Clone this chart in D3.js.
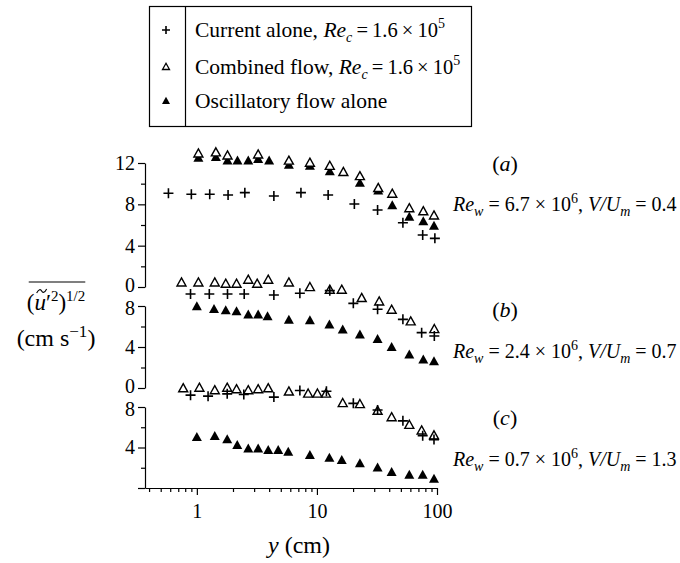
<!DOCTYPE html>
<html><head><meta charset="utf-8">
<script src="https://cdn.jsdelivr.net/npm/d3@7"></script>
<style>
body{margin:0;background:#fff;}
svg{display:block;font-family:"Liberation Serif","Times New Roman",serif;}
</style></head><body>
<svg id="c" width="680" height="563"></svg>
<script>
// ---- data (y in cm, u in cm/s) ----
const currentA_x = [0.58, 0.90, 1.28, 1.82, 2.51, 4.38, 7.36, 12.4, 20.5, 32, 52, 76, 96];
const currentA_y = [9.07, 8.97, 8.97, 8.9, 9.13, 8.8, 9.13, 8.9, 8.03, 7.45, 6.22, 5.03, 4.71];
const combinedA_x = [1.03, 1.44, 1.80, 3.24, 5.84, 8.74, 12.8, 16.6, 22.8, 32.4, 42.4, 58.8, 76.9, 94.4];
const combinedA_y = [12.9, 13.0, 12.7, 12.8, 12.2, 12.0, 11.7, 11.1, 10.7, 9.55, 9.0, 7.6, 7.3, 6.9];
const oscA_x = [1.03, 1.44, 1.80, 2.18, 2.68, 3.24, 4.0, 5.84, 8.74, 12.8, 22.8, 32.4, 42.4, 58.8, 76.9, 94.4];
const oscA_y = [12.46, 12.55, 12.2, 12.2, 12.2, 12.36, 12.2, 11.8, 11.7, 11.16, 10.04, 9.3, 7.87, 6.75, 6.32, 5.9];

const combinedB_x = [0.745, 1.03, 1.41, 1.74, 2.14, 2.68, 3.18, 3.93, 5.84, 8.74, 12.8, 16.1, 23.6, 33.0, 41.9, 60.4, 95];
const combinedB_y = [10.27, 10.27, 10.27, 10.15, 10.15, 10.54, 10.15, 10.54, 10.27, 9.82, 9.56, 9.56, 8.75, 8.42, 7.61, 6.47, 5.72];
const currentB_x = [0.886, 1.27, 1.80, 2.48, 4.38, 7.21, 12.8, 20.1, 32, 52, 74.5, 95];
const currentB_y = [9.17, 9.17, 9.17, 9.17, 9.07, 9.24, 9.5, 8.26, 7.68, 6.7, 5.4, 5.07];
const oscB_x = [1.0, 1.39, 1.74, 2.14, 2.68, 3.24, 3.88, 5.84, 8.74, 12.7, 16.4, 22.8, 32, 41.9, 58.8, 76.9, 94.4];
const oscB_y = [7.93, 7.68, 7.54, 7.45, 7.12, 7.12, 6.96, 6.63, 6.57, 6.15, 5.66, 5.17, 4.75, 3.97, 3.22, 2.73, 2.57];

const combinedC_x = [0.77, 1.05, 1.41, 1.79, 2.14, 2.68, 3.24, 3.93, 5.84, 8.45, 10.1, 11.9, 16.4, 22.8, 32, 41.9, 58.8, 74.5, 94.4];
const combinedC_y = [9.82, 9.88, 9.63, 9.88, 9.73, 9.63, 9.73, 9.82, 9.5, 9.3, 9.3, 9.3, 8.36, 8.26, 7.6, 6.96, 6.21, 5.66, 5.17];
const currentC_x = [0.886, 1.24, 1.79, 2.46, 4.38, 7.21, 12.0, 20.1, 32, 52, 76, 94.4];
const currentC_y = [9.17, 9.07, 9.3, 9.24, 8.98, 9.63, 9.56, 8.36, 7.7, 6.63, 5.17, 4.78];
const oscC_x = [1.0, 1.41, 1.79, 2.17, 2.68, 3.24, 3.93, 4.76, 5.77, 8.74, 12.7, 16.1, 22.8, 32, 41.9, 58.8, 76, 94.4];
const oscC_y = [5.0, 5.1, 4.78, 4.2, 3.87, 3.87, 3.71, 3.71, 3.54, 3.22, 2.96, 2.73, 2.41, 1.98, 1.53, 1.27, 1.27, 0.88];

const xMajorTicks = [1, 10, 100];
const xMinorTicks = [0.4,0.5,0.6,0.7,0.8,0.9,2,3,4,5,6,7,8,9,20,30,40,50,60,70,80,90];
const yTicksA = [0, 4, 8, 12], yMinorA = [2, 6, 10];
const yTicksBC = [0, 4, 8], yMinorBC = [2, 6];
const legendLabels = ["Current alone", "Combined flow", "Oscillatory flow alone"];
const panelLabels = ["a", "b", "c"];
const panelRe = ["6.7", "2.4", "0.7"];
const panelVU = ["0.4", "0.7", "1.3"];

// ---- layout ----
const svg = d3.select("#c");
const FS = 20;
const TH = "\u2009";
const x = d3.scaleLog().domain([0.37, 100]).range([145, 437]);
const panels = [
  {id:"a", y: d3.scaleLinear().domain([0,12]).range([287,163]), ticks:yTicksA, minor:yMinorA, topV:12,
   cur:[currentA_x,currentA_y], com:[combinedA_x,combinedA_y], osc:[oscA_x,oscA_y], labY:171, reY:211},
  {id:"b", y: d3.scaleLinear().domain([0,8]).range([388,306]), ticks:yTicksBC, minor:yMinorBC, topV:8,
   cur:[currentB_x,currentB_y], com:[combinedB_x,combinedB_y], osc:[oscB_x,oscB_y], labY:317, reY:358},
  {id:"c", y: d3.scaleLinear().domain([0,8]).range([488,407]), ticks:yTicksBC, minor:yMinorBC, topV:8,
   cur:[currentC_x,currentC_y], com:[combinedC_x,combinedC_y], osc:[oscC_x,oscC_y], labY:425, reY:466},
];

const triPath = (s) => { const h = s*0.9; return `M0,${-h*0.6}L${s/2},${h*0.4}L${-s/2},${h*0.4}Z`; };
const plusPath = (s) => `M${-s/2},0H${s/2}M0,${-s/2}V${s/2}`;

function styleAxis(g){
  g.attr("font-family",null);
  g.selectAll("path.domain").attr("stroke","#000").attr("stroke-width",1.2);
  g.selectAll(".tick line").attr("stroke","#000").attr("stroke-width",1.2);
  g.selectAll(".tick text").attr("font-family","Liberation Serif, Times New Roman, serif").attr("font-size",FS).attr("fill","#000");
}

panels.forEach((p,i) => {
  const gA = svg.append("g").attr("transform","translate(145,0)")
    .call(d3.axisLeft(p.y).tickValues(p.ticks).tickSize(7).tickSizeOuter(0).tickPadding(3)
      .tickFormat(d => (p.id==="c" && d===0) ? "" : d3.format("d")(d)));
  styleAxis(gA);
  // keep stacked 0 / 8 labels from colliding
  gA.selectAll(".tick text").attr("dy", d => d===0 ? "0.22em" : (d===p.topV && p.id!=="a" ? "0.42em" : "0.32em"));
  const gm = svg.append("g").attr("transform","translate(145,0)")
    .call(d3.axisLeft(p.y).tickValues(p.minor).tickSize(4).tickFormat(""));
  gm.select("path.domain").remove();
  styleAxis(gm);

  const g = svg.append("g");
  g.selectAll(null).data(d3.zip(p.osc[0], p.osc[1])).join("path")
    .attr("transform", d => `translate(${x(d[0])},${p.y(d[1])})`)
    .attr("d", triPath(10)).attr("fill","#000");
  g.selectAll(null).data(d3.zip(p.com[0], p.com[1])).join("path")
    .attr("transform", d => `translate(${x(d[0])},${p.y(d[1])})`)
    .attr("d", triPath(9)).attr("fill","#fff").attr("stroke","#000").attr("stroke-width",1.4);
  g.selectAll(null).data(d3.zip(p.cur[0], p.cur[1])).join("path")
    .attr("transform", d => `translate(${x(d[0])},${p.y(d[1])})`)
    .attr("d", plusPath(10)).attr("fill","none").attr("stroke","#000").attr("stroke-width",1.6);

  const t = svg.append("text").attr("x",505).attr("y",p.labY).attr("text-anchor","middle").attr("font-size",22);
  t.append("tspan").text("(");
  t.append("tspan").attr("font-style","italic").text(panelLabels[i]);
  t.append("tspan").text(")");
  const r = svg.append("text").attr("x",453).attr("y",p.reY).attr("font-size",FS);
  r.append("tspan").attr("font-style","italic").text("Re");
  r.append("tspan").attr("font-style","italic").attr("font-size",14).attr("dy",5).text("w");
  r.append("tspan").attr("dy",-5).text(" = " + panelRe[i] + " \u00d7 10");
  r.append("tspan").attr("font-size",14).attr("dy",-8).text("6");
  r.append("tspan").attr("dy",8).text(", ");
  r.append("tspan").attr("font-style","italic").text("V/U");
  r.append("tspan").attr("font-style","italic").attr("font-size",14).attr("dy",5).text("m");
  r.append("tspan").attr("dy",-5).text(" = " + panelVU[i]);
});

// x axis
const gx = svg.append("g").attr("transform","translate(0,488)")
  .call(d3.axisBottom(x).tickValues(xMajorTicks).tickSize(7).tickSizeOuter(0).tickPadding(9).tickFormat(d3.format("d")));
styleAxis(gx);
const gxm = svg.append("g").attr("transform","translate(0,488)")
  .call(d3.axisBottom(x).tickValues(xMinorTicks).tickSize(4).tickFormat(""));
gxm.select("path.domain").remove();
styleAxis(gxm);

// axis titles
const xt = svg.append("text").attr("x",299).attr("y",553).attr("text-anchor","middle").attr("font-size",24);
xt.append("tspan").attr("font-style","italic").text("y");
xt.append("tspan").text(" (cm)");

const yl = svg.append("text").attr("x",56).attr("y",310).attr("text-anchor","middle").attr("font-size",23);
yl.append("tspan").text("(");
yl.append("tspan").attr("font-style","italic").text("u");
yl.append("tspan").text("\u2032");
yl.append("tspan").attr("font-size",15).attr("dy",-9).text("2");
yl.append("tspan").attr("dy",9).text(")");
yl.append("tspan").attr("font-size",15).attr("dy",-9).text("1/2");
const ylb = yl.node().getBBox();
const uS = yl.node().getStartPositionOfChar(1).x, uE = yl.node().getEndPositionOfChar(1).x;
const um = (uS + uE) / 2 + 1.5;
svg.append("path").attr("d",`M${um-5},293 C${um-3},289 ${um-1},289 ${um},291 S${um+3},293 ${um+5},289`)
  .attr("fill","none").attr("stroke","#000").attr("stroke-width",1.1);
svg.append("line").attr("x1",ylb.x+2).attr("x2",ylb.x+ylb.width).attr("y1",282).attr("y2",282)
  .attr("stroke","#000").attr("stroke-width",1.2);
const yu = svg.append("text").attr("x",56).attr("y",346).attr("text-anchor","middle").attr("font-size",24);
yu.append("tspan").text("(cm s");
yu.append("tspan").attr("font-size",17).attr("dy",-9).text("\u22121");
yu.append("tspan").attr("dy",9).text(")");

// legend
const lg = svg.append("g");
lg.append("rect").attr("x",149.5).attr("y",6.5).attr("width",322).attr("height",120)
  .attr("fill","#fff").attr("stroke","#000").attr("stroke-width",1.2);
lg.append("line").attr("x1",185.5).attr("x2",185.5).attr("y1",6.5).attr("y2",126.5).attr("stroke","#000").attr("stroke-width",1.2);
const rowY = [30, 67, 101];
lg.append("path").attr("transform",`translate(166,${rowY[0]})`).attr("d",plusPath(8)).attr("stroke","#000").attr("stroke-width",1.6);
lg.append("path").attr("transform",`translate(166,${rowY[1]})`).attr("d",triPath(7)).attr("fill","#fff").attr("stroke","#000").attr("stroke-width",1.3);
lg.append("path").attr("transform",`translate(166,${rowY[2]})`).attr("d",triPath(8)).attr("fill","#000");
legendLabels.forEach((lab,i) => {
  const t = lg.append("text").attr("x",195).attr("y",rowY[i]+7).attr("font-size",21.5);
  t.append("tspan").text(lab + (i<2 ? ", " : ""));
  if (i<2){
    t.append("tspan").attr("font-style","italic").text("Re");
    t.append("tspan").attr("font-style","italic").attr("font-size",14).attr("dy",5).text("c");
    t.append("tspan").attr("dy",-5).attr("font-size",20.5).text(TH + "=" + TH + "1.6" + TH + "\u00d7" + TH + "10");
    t.append("tspan").attr("font-size",14).attr("dy",-9).text("5");
  }
});
</script>
</body></html>
